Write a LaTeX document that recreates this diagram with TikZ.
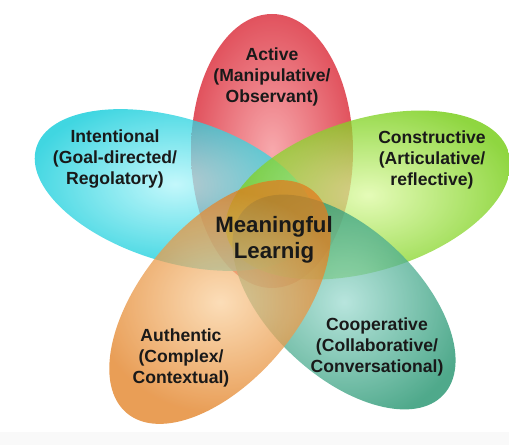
\documentclass[tikz,border=0pt]{standalone}
\usepackage{fontspec}
\setmainfont{Liberation Sans}

\definecolor{activeOut}{RGB}{215,25,40}
\definecolor{activeIn}{RGB}{245,140,145}
\definecolor{intentOut}{RGB}{0,200,215}
\definecolor{intentIn}{RGB}{175,245,250}
\definecolor{constrOut}{RGB}{105,200,0}
\definecolor{constrIn}{RGB}{220,250,160}
\definecolor{coopOut}{RGB}{20,140,100}
\definecolor{coopIn}{RGB}{160,220,210}
\definecolor{authOut}{RGB}{225,125,30}
\definecolor{authIn}{RGB}{250,210,160}

\begin{document}
\begin{tikzpicture}[line cap=round,line join=round,x=0.03cm,y=0.03cm,
    petal/.style={fill opacity=0.75},
    petal text/.style={align=center, text=black!90,
        font=\fontsize{15}{18}\selectfont\bfseries},
    core text/.style={align=center, text=black!90,
        font=\fontsize{19}{22}\selectfont\bfseries}]

    \useasboundingbox (0,0) rectangle (509,445);
    \fill[gray!5] (0,0) rectangle (509,13);

    % Petals
    \shade[petal, inner color=activeIn, outer color=activeOut] (272,294) ellipse [x radius=81, y radius=137];
    \shade[petal, inner color=intentIn, outer color=intentOut, rotate around={-17:(175,255)}] (175,255) ellipse [x radius=145, y radius=72];
    \shade[petal, inner color=constrIn, outer color=constrOut, rotate around={17:(368,250)}] (368,250) ellipse [x radius=147, y radius=76];
    \shade[petal, inner color=coopIn, outer color=coopOut, rotate around={-43:(344,143)}] (344,143) ellipse [x radius=136, y radius=74];
    \shade[petal, inner color=authIn, outer color=authOut, rotate around={50:(220,143)}] (220,143) ellipse [x radius=145, y radius=78];

    % Labels
    \node[petal text] (active) at (272,368) {Active\\(Manipulative/\\Observant)};
    \node[petal text] (intent) at (115,286) {Intentional\\(Goal-directed/\\Regolatory)};
    \node[petal text] (constr) at (432,285) {Constructive\\(Articulative/\\reflective)};
    \node[petal text] (coop) at (377,98) {Cooperative\\(Collaborative/\\Conversational)};
    \node[petal text] (auth) at (181,87) {Authentic\\(Complex/\\Contextual)};
    \node[core text] (core) at (274,205) {Meaningful\\Learnig};
\end{tikzpicture}
\end{document}
